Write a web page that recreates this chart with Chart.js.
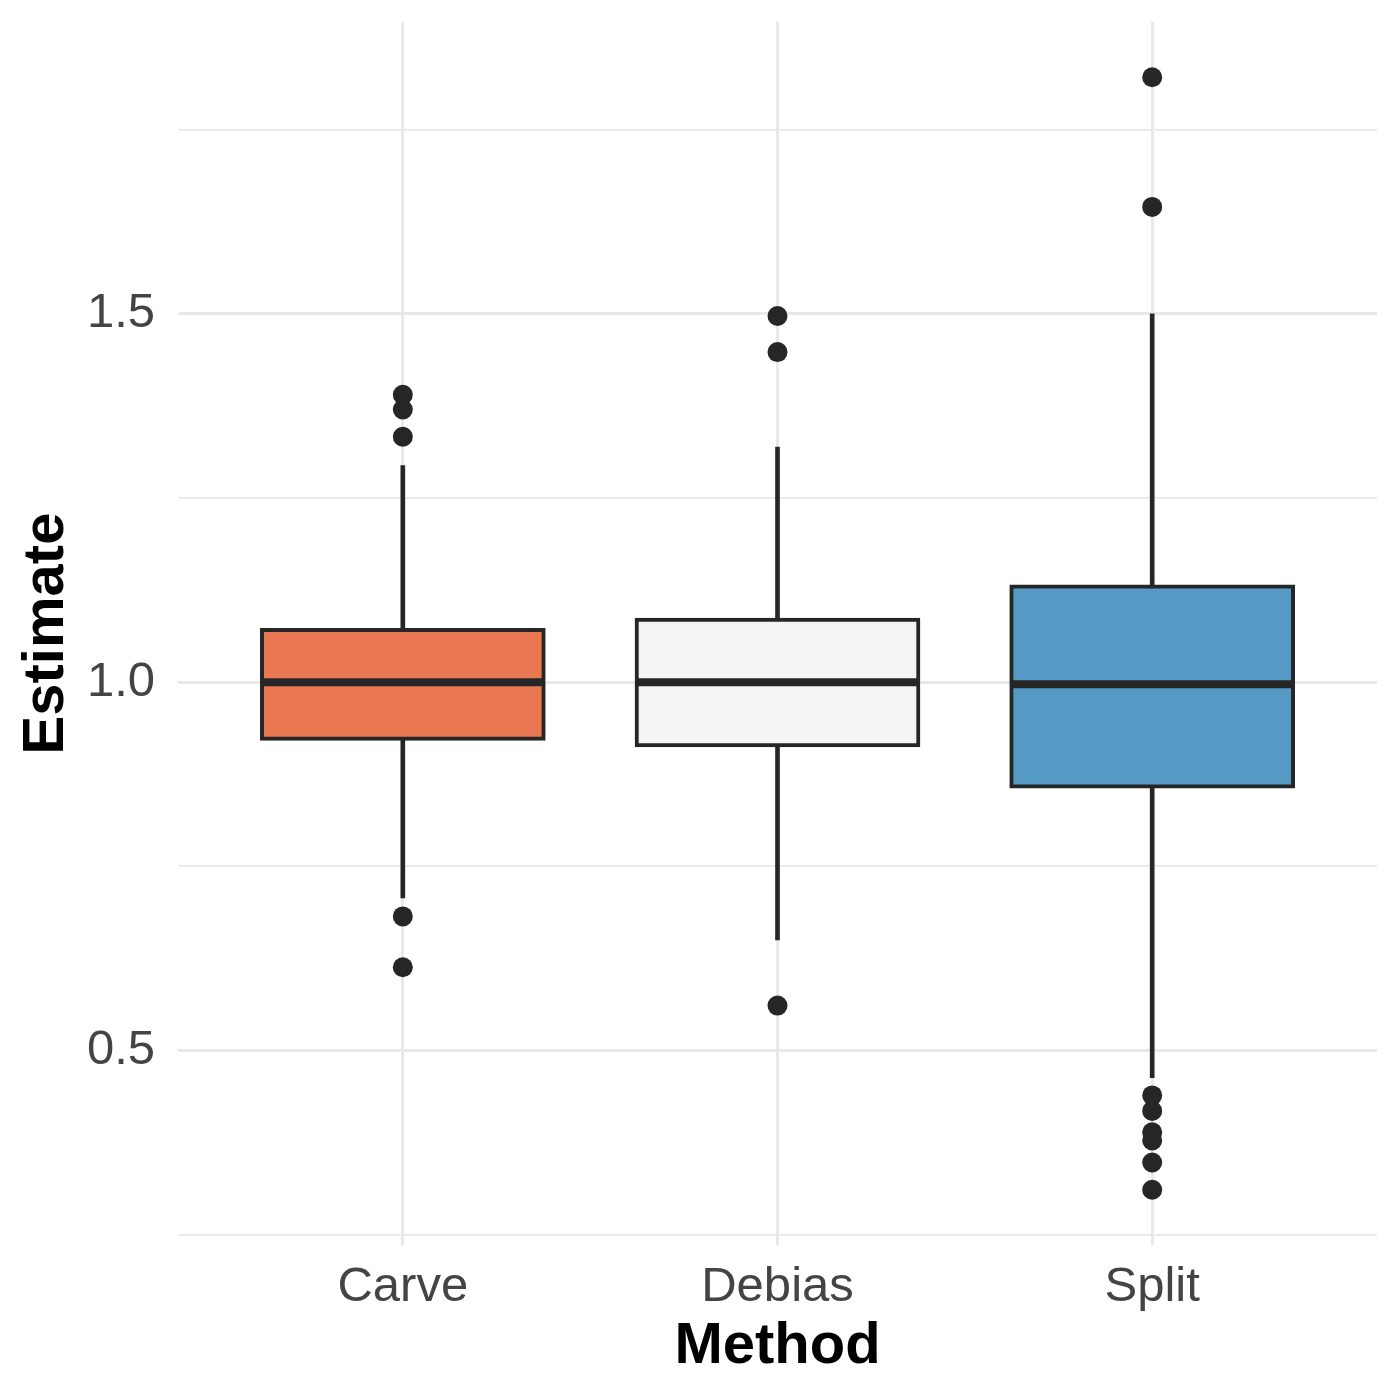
<!DOCTYPE html>
<html lang="en">
<head>
  <meta charset="UTF-8" />
  <title>Estimate by Method</title>
  <script src="https://cdn.jsdelivr.net/npm/chart.js"></script>
  <style>
    html, body { margin: 0; padding: 0; background: #fff; }
    #wrap { width: 1400px; height: 1400px; }
  </style>
</head>
<body>
  <div id="wrap"><canvas id="boxChart" width="1400" height="1400"></canvas></div>

  <script>
    // data
    const methods = ['Carve', 'Debias', 'Split'];
    const q1 = [0.921, 0.912, 0.856];
    const medians = [1.000, 1.000, 0.997];
    const q3 = [1.073, 1.087, 1.132];
    const whiskerLow = [0.707, 0.650, 0.463];
    const whiskerHigh = [1.294, 1.319, 1.500];
    const outliersCarve = [1.390, 1.370, 1.333, 0.682, 0.613];
    const outliersDebias = [1.497, 1.448, 0.561];
    const outliersSplit = [1.821, 1.645, 0.439, 0.418, 0.389, 0.378, 0.348, 0.311];
    const yMajorTicks = [0.5, 1.0, 1.5];
    const yMinorTicks = [0.25, 0.75, 1.25, 1.75];
    const yMin = 0.236, yMax = 1.896;

    const fills = ['#E97752', '#F4F4F4', '#5599C5'];
    const ink = '#262626';
    const gridColor = '#E9E9E9';
    const tickColor = '#444444';

    const xs = methods.map((m, i) => i + 1);
    const outlierPoints = [outliersCarve, outliersDebias, outliersSplit]
      .flatMap((arr, i) => arr.map(v => ({ x: xs[i], y: v })));

    const isMajor = v => yMajorTicks.some(t => Math.abs(t - v) < 1e-9);

    // no extra room for overhanging labels, the panel edges are fixed
    const noPadding = scale => {
      scale.paddingTop = 0;
      scale.paddingBottom = 0;
      scale.paddingLeft = 0;
      scale.paddingRight = 0;
    };

    // median line drawn across each box using the chart's scales
    const medianPlugin = {
      id: 'medians',
      afterDatasetsDraw(chart) {
        const meta = chart.getDatasetMeta(2);
        const y = chart.scales.y;
        const ctx = chart.ctx;
        ctx.save();
        ctx.strokeStyle = ink;
        ctx.lineWidth = 8;
        ctx.lineCap = 'butt';
        meta.data.forEach((bar, i) => {
          const { x, width } = bar.getProps(['x', 'width'], true);
          const py = y.getPixelForValue(medians[i]);
          ctx.beginPath();
          ctx.moveTo(x - width / 2 + 2, py);
          ctx.lineTo(x + width / 2 - 2, py);
          ctx.stroke();
        });
        ctx.restore();
      }
    };

    new Chart(document.getElementById('boxChart'), {
      type: 'bar',
      data: {
        datasets: [
          {
            label: 'upper whisker',
            data: xs.map((x, i) => ({ x, y: [q3[i], whiskerHigh[i]] })),
            backgroundColor: ink,
            borderWidth: 0,
            barThickness: 4,
            grouped: false,
            order: 3
          },
          {
            label: 'lower whisker',
            data: xs.map((x, i) => ({ x, y: [whiskerLow[i], q1[i]] })),
            backgroundColor: ink,
            borderWidth: 0,
            barThickness: 4,
            grouped: false,
            order: 3
          },
          {
            label: 'box',
            data: xs.map((x, i) => ({ x, y: [q1[i], q3[i]] })),
            backgroundColor: fills,
            borderColor: ink,
            borderWidth: 4,
            borderSkipped: false,
            barThickness: 285,
            grouped: false,
            order: 2
          },
          {
            type: 'scatter',
            label: 'outliers',
            data: outlierPoints,
            backgroundColor: ink,
            borderWidth: 0,
            pointRadius: 10,
            order: 1
          }
        ]
      },
      options: {
        responsive: false,
        animation: false,
        layout: { padding: { top: 22, right: 23, left: 0, bottom: 0 } },
        plugins: {
          legend: { display: false },
          tooltip: { enabled: false }
        },
        scales: {
          x: {
            type: 'linear',
            min: 0.4,
            max: 3.6,
            offset: false,
            afterBuildTicks: scale => { scale.ticks = xs.map(v => ({ value: v })); },
            afterFit: scale => { scale.height = 155; noPadding(scale); },
            grid: { color: gridColor, lineWidth: 3, drawTicks: false, offset: false },
            border: { display: false },
            ticks: {
              padding: 13,
              color: tickColor,
              font: { family: 'Liberation Sans, Arial, sans-serif', size: 49 },
              callback: v => methods[Math.round(v) - 1]
            },
            title: {
              display: true,
              text: 'Method',
              color: '#000',
              font: { family: 'Liberation Sans, Arial, sans-serif', size: 58, weight: 'bold' },
              padding: { top: 0, bottom: 18 }
            }
          },
          y: {
            type: 'linear',
            min: yMin,
            max: yMax,
            beginAtZero: false,
            afterBuildTicks: scale => {
              scale.ticks = yMinorTicks.concat(yMajorTicks).sort((a, b) => a - b).map(v => ({ value: v }));
            },
            afterFit: scale => { scale.width = 178; noPadding(scale); },
            grid: {
              color: gridColor,
              drawTicks: false,
              lineWidth: c => isMajor(c.tick.value) ? 3 : 1.8
            },
            border: { display: false },
            ticks: {
              padding: 23,
              color: tickColor,
              font: { family: 'Liberation Sans, Arial, sans-serif', size: 49 },
              callback: v => isMajor(v) ? v.toFixed(1) : ''
            },
            title: {
              display: true,
              text: 'Estimate',
              color: '#000',
              font: { family: 'Liberation Sans, Arial, sans-serif', size: 58, weight: 'bold' },
              padding: { top: 12, bottom: 0 }
            }
          }
        }
      },
      plugins: [medianPlugin]
    });
  </script>
</body>
</html>
